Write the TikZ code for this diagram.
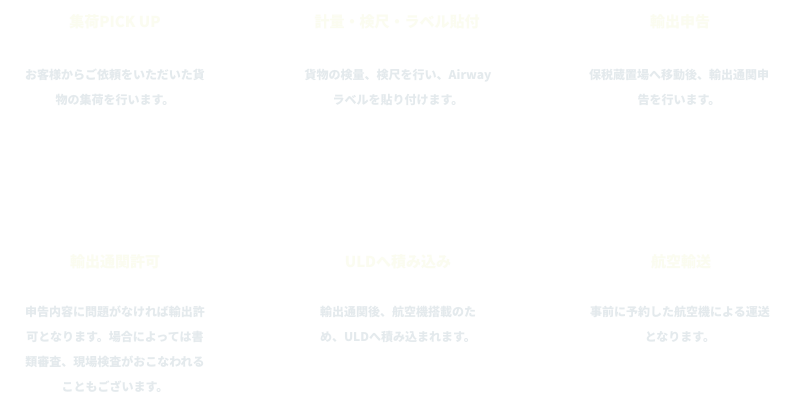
\documentclass[tikz,border=0pt]{standalone}
\usepackage{fontspec}
\newfontfamily\jp{Noto Sans CJK JP}
\definecolor{titlecol}{HTML}{FBFCF0}
\definecolor{bodycol}{HTML}{E4EAED}
\begin{document}
\begin{tikzpicture}[x=1pt,y=-1pt,
  steptitle/.style={text=titlecol,font={\jp\bfseries\fontsize{15}{18}\selectfont},inner sep=0pt,anchor=center},
  stepbody/.style={text=bodycol,font={\jp\bfseries\fontsize{12}{25}\selectfont},align=center,inner sep=0pt,anchor=center}]
\useasboundingbox[fill=white] (0,0) rectangle (796,412);
% row 1
\node[steptitle] (t1) at (115,22) {集荷PICK UP};
\node[stepbody] (b1) at (115,87.5) {お客様からご依頼をいただいた貨\\物の集荷を行います。};
\node[steptitle] (t2) at (397,22) {計量・検尺・ラベル貼付};
\node[stepbody] (b2) at (398,87.5) {貨物の検量、検尺を行い、Airway\\ラベルを貼り付けます。};
\node[steptitle] (t3) at (680,22) {輸出申告};
\node[stepbody] (b3) at (679,87.5) {保税蔵置場へ移動後、輸出通関申\\告を行います。};
% row 2
\node[steptitle] (t4) at (115,262) {輸出通関許可};
\node[stepbody] (b4) at (115,349) {申告内容に問題がなければ輸出許\\可となります。場合によっては書\\類審査、現場検査がおこなわれる\\こともございます。};
\node[steptitle] (t5) at (398,262) {ULDへ積み込み};
\node[stepbody] (b5) at (398,324.5) {輸出通関後、航空機搭載のた\\め、ULDへ積み込まれます。};
\node[steptitle] (t6) at (681,262) {航空輸送};
\node[stepbody] (b6) at (680,324.5) {事前に予約した航空機による運送\\となります。};
\end{tikzpicture}
\end{document}
